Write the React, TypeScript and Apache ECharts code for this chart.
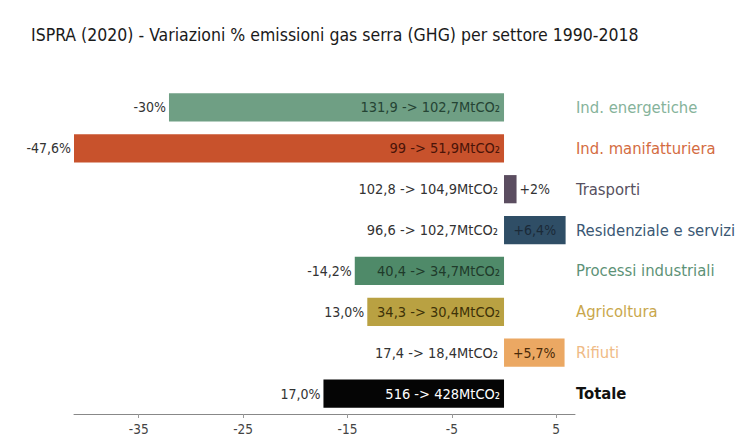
import React, { useEffect, useRef } from "react";
import * as echarts from "echarts";

const titleText = "ISPRA (2020) - Variazioni % emissioni gas serra (GHG) per settore 1990-2018";
const categories = [
  "Ind. energetiche",
  "Ind. manifatturiera",
  "Trasporti",
  "Residenziale e servizi",
  "Processi industriali",
  "Agricoltura",
  "Rifiuti",
  "Totale",
];
const barValues = [-32.1, -41.2, 1.2, 5.9, -14.3, -13.1, 5.8, -17.3];
const pctLabels = ["-30%", "-47,6%", "+2%", "+6,4%", "-14,2%", "13,0%", "+5,7%", "17,0%"];
const mtLabels = [
  "131,9 -> 102,7MtCO₂",
  "99 -> 51,9MtCO₂",
  "102,8 -> 104,9MtCO₂",
  "96,6 -> 102,7MtCO₂",
  "40,4 -> 34,7MtCO₂",
  "34,3 -> 30,4MtCO₂",
  "17,4 -> 18,4MtCO₂",
  "516 -> 428MtCO₂",
];
const tickValues = [-35, -25, -15, -5, 5];

const barColors = ["#6f9f84", "#c8522c", "#5b4d60", "#2f4e66", "#4f8a69", "#b9a142", "#eba863", "#050505"];
const catColors = ["#86b39b", "#d46c42", "#575060", "#3b5874", "#5d9277", "#c9a74c", "#efbb86", "#111111"];
const innerTextColors = ["#254434", "#4a1408", "#333", "#1b2a38", "#1f3b2b", "#3e3208", "#4a2a08", "#ffffff"];

const FONT = "DejaVu Sans Condensed";

export default function App() {
  const ref = useRef<HTMLDivElement>(null);
  useEffect(() => {
    document.body.style.margin = "0";
    const chart = echarts.init(ref.current!, undefined, { renderer: "svg" });
    const pctData = barValues.map((v, i) => {
      const neg = v < 0;
      let position: any = neg ? "left" : "right";
      let color = "#333";
      if (i === 3 || i === 6) {
        position = "inside";
        color = innerTextColors[i];
      }
      return {
        value: v,
        itemStyle: { color: barColors[i] },
        label: {
          show: true,
          position,
          formatter: pctLabels[i],
          color,
          fontSize: 14,
          fontFamily: FONT,
          distance: 3,
        },
      };
    });
    const mtData = barValues.map((v, i) => {
      const neg = v < 0;
      return {
        value: v,
        itemStyle: { color: "rgba(0,0,0,0)" },
        label: {
          show: true,
          position: neg ? "insideRight" : "left",
          formatter: mtLabels[i],
          color: neg ? innerTextColors[i] : "#333",
          fontSize: 14.5,
          fontFamily: FONT,
          distance: neg ? 4 : 6,
        },
      };
    });
    chart.setOption({
      animation: false,
      backgroundColor: "#ffffff",
      title: {
        text: titleText,
        left: 26,
        top: 21,
        textStyle: { fontSize: 17.5, fontWeight: "normal", color: "#1a1a1a", fontFamily: FONT },
      },
      grid: { left: 74, right: 164, top: 87, bottom: 31, outerBoundsMode: "none", containLabel: false },
      xAxis: {
        type: "value",
        min: -41.2,
        max: 6.8,
        splitLine: { show: false },
        axisLine: { show: true, lineStyle: { color: "#888", width: 1 } },
        axisTick: { show: true, length: 4, customValues: tickValues, lineStyle: { color: "#999" } },
        axisLabel: {
          customValues: tickValues,
          color: "#444",
          fontSize: 13.5,
          fontFamily: FONT,
          margin: 8,
        },
      },
      yAxis: {
        type: "category",
        inverse: true,
        position: "right",
        data: categories.map((c, i) => ({
          value: c,
          textStyle: {
            color: catColors[i],
            fontWeight: i === categories.length - 1 ? "bold" : "normal",
          },
        })),
        axisLine: { show: false },
        axisTick: { show: false },
        axisLabel: { fontSize: 16.5, fontFamily: FONT, margin: 1, align: "left" },
      },
      series: [
        { type: "bar", data: pctData, barCategoryGap: "31%", z: 2 },
        { type: "bar", data: mtData, barGap: "-100%", barCategoryGap: "31%", z: 3 },
      ],
    });
    return () => chart.dispose();
  }, []);
  return <div ref={ref} style={{ width: 739, height: 445 }} />;
}
